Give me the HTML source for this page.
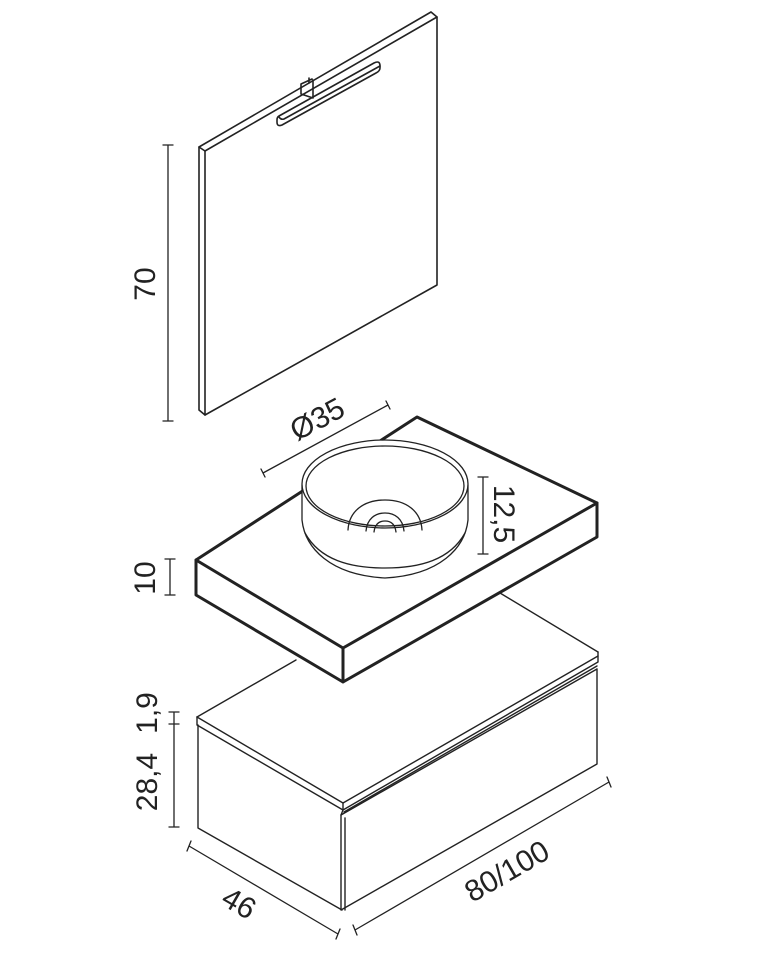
<!DOCTYPE html>
<html><head><meta charset="utf-8"><style>
html,body{margin:0;padding:0;background:#fff}
svg{display:block}
text{font-family:"Liberation Sans",sans-serif;font-size:30px;fill:#222}
</style></head><body>
<svg width="757" height="953" viewBox="0 0 757 953" xmlns="http://www.w3.org/2000/svg">
<g fill="none" stroke="#222" stroke-linejoin="round" stroke-linecap="round">
<!-- Mirror -->
<g stroke-width="1.6">
<path d="M199,147 L431,12 L437,17 L205,151 Z" fill="#fff"/>
<path d="M199,147 L199,410 L205,415 L205,151"/>
<path d="M437,17 L437,285 L205,415"/>
<!-- light bar -->
<path d="M279,116 L374,63 Q380,60 380,66 L380,68 Q380,71 376,73 L282,125 Q277,127 277,122 L277,120 Q277,117 279,116 Z" fill="#fff"/>
<path d="M279,117 Q281,120 284,119 L380,66"/>
<path d="M301,84 L301,94 L313,98 L313,80 M301,84 L312,79 M309,78 L309,83"/>
</g>
<!-- Cabinet -->
<g stroke-width="1.4">
<path d="M197,717 L296,660"/>
<path d="M500,593 L598,652"/>
<path d="M197,717 L343,803 L598,656"/>
<path d="M197,717 L197,725 L343,810 L598,662 L598,652"/>
<path d="M343,803 L343,810"/>
<path d="M198,725 L198,828 L342,910"/>
<path d="M341,815 L597,669 M341,815 L341,910 L597,764 L597,669"/>
<path d="M345,818 L345,910"/>
<path d="M343,810 L341,815 M344,812 L597,666"/>
</g>
<!-- Countertop -->
<g stroke-width="3">
<path d="M196,560 L417,417 L597,503 L343,648 Z" fill="#fff"/>
<path d="M196,560 L196,595 L343,682 L597,537 L597,503 M343,648 L343,682"/>
</g>
<!-- Basin -->
<g stroke-width="1.3" fill="#fff">
<path d="M302,485 L302,520 C305,548 330,575 385,578 C440,575 465,548 468,520 L468,485 Z"/>
<path d="M305,533 C320,560 350,568 385,568 C420,568 450,560 465,533" fill="none"/>
<ellipse cx="385" cy="484" rx="83" ry="44"/>
<ellipse cx="385" cy="486" rx="79" ry="40"/>
<path d="M348,530 C349,511 364,500 385,500 C406,500 421,511 422,530" fill="none"/>
<path d="M366,531 C367,519 375,513 385,513 C395,513 403,519 404,531" fill="none"/>
<path d="M374,532 C375,524 379,521 385,521 C391,521 395,524 396,532" fill="none"/>
</g>
<!-- dims -->
<g stroke-width="1.3">
<path d="M168,145 L168,421 M163,145 L173,145 M163,421 L173,421"/>
<path d="M170,559 L170,595 M165,559 L175,559 M165,595 L175,595"/>
<path d="M174,712 L174,827 M169,712 L179,712 M169,724 L179,724 M169,827 L179,827"/>
<path d="M263,473 L388,405 M261,469 L265,477 M386,401 L390,409"/>
<path d="M483,477 L483,554 M478,477 L488,477 M478,554 L488,554"/>
<path d="M189,846 L338,934 M187,851 L191,841 M336,939 L340,929"/>
<path d="M355,930 L609,782 M353,925 L357,935 M607,777 L611,787"/>
</g>
</g>
<!-- Labels -->
<text transform="translate(155,284) rotate(-90)" text-anchor="middle">70</text>
<text transform="translate(155,578) rotate(-90)" text-anchor="middle">10</text>
<text transform="translate(157,713) rotate(-90)" text-anchor="middle">1,9</text>
<text transform="translate(157,782) rotate(-90)" text-anchor="middle">28,4</text>
<text transform="translate(322,428) rotate(-28)" text-anchor="middle">Ø35</text>
<text transform="translate(494,514) rotate(90)" text-anchor="middle">12,5</text>
<text transform="translate(234,912) rotate(30)" text-anchor="middle">46</text>
<text transform="translate(512,880) rotate(-30)" text-anchor="middle">80/100</text>
</svg>
</body></html>
